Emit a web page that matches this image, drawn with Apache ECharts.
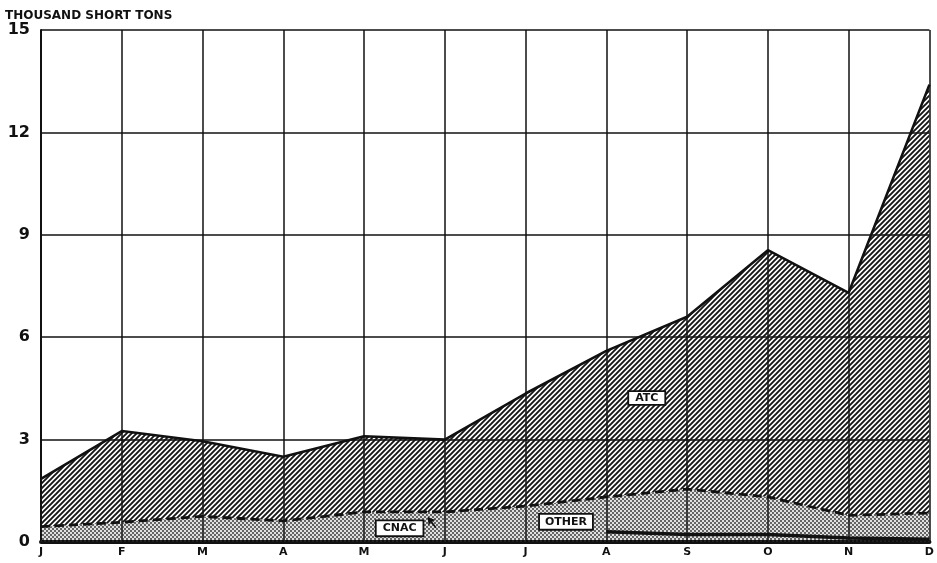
<!DOCTYPE html>
<html>
<head>
<meta charset="utf-8">
<script src="https://cdn.jsdelivr.net/npm/echarts@6/dist/echarts.min.js"></script>
<style>
html,body{margin:0;padding:0;background:#fff;}
#chart{width:937px;height:563px;}
</style>
</head>
<body>
<div id="chart"></div>
<script>
// ---- data (thousand short tons) ----
const months = ['J','F','M','A','M','J','J','A','S','O','N','D'];
const yTicks = [0, 3, 6, 9, 12, 15];
// lower dotted band (CNAC + other), top marked by the dashed line
const cnacOther = [0.45, 0.58, 0.75, 0.62, 0.88, 0.88, 1.05, 1.32, 1.55, 1.32, 0.78, 0.85];
// ATC hatched band stacked on top of it
const atc = [1.40, 2.67, 2.20, 1.88, 2.22, 2.12, 3.30, 4.28, 5.05, 7.23, 6.52, 12.55];
// thin dark band at the bottom from August on
const bottomBand = [null, null, null, null, null, null, null, 0.30, 0.22, 0.22, 0.12, 0.08];
// in-chart labels: [month position, value]
const labelNames = ['ATC', 'CNAC', 'OTHER'];
const labelPos = [[7.5, 4.22], [4.44, 0.40], [6.50, 0.59]];

function hatchPattern(){
  const c=document.createElement('canvas'); c.width=c.height=5;
  const g=c.getContext('2d');
  g.strokeStyle='#151515'; g.lineWidth=1.9; g.lineCap='square';
  g.beginPath();
  g.moveTo(-1,6); g.lineTo(6,-1);
  g.moveTo(-1,1); g.lineTo(1,-1);
  g.moveTo(4,6); g.lineTo(6,4);
  g.stroke();
  return c;
}
function dotPattern(){
  const c=document.createElement('canvas'); c.width=c.height=4;
  const g=c.getContext('2d');
  g.fillStyle='rgba(0,0,0,0.12)'; g.fillRect(0,0,4,4);
  g.fillStyle='#2a2a2a';
  g.beginPath(); g.arc(1,1,0.9,0,Math.PI*2); g.fill();
  g.beginPath(); g.arc(3,3,0.9,0,Math.PI*2); g.fill();
  return c;
}

const FONT = 'DejaVu Sans';
const pads = {ATC:[1,6,0,6], CNAC:[2,6,1,6], OTHER:[2,5,1,5]};
const boxLabel = (txt) => ({
  show:true, position:'inside', formatter:txt,
  fontFamily:FONT, fontWeight:'bold', fontSize:11, color:'#111',
  backgroundColor:'#fff', borderColor:'#111', borderWidth:1.8,
  padding:pads[txt]
});

const chart = echarts.init(document.getElementById('chart'), null, {renderer:'canvas'});
chart.setOption({
  animation:false,
  backgroundColor:'#fff',
  title:{
    text:'THOUSAND SHORT TONS', left:0, top:5,
    textStyle:{fontFamily:FONT, fontWeight:'bold', fontSize:12, color:'#111'}
  },
  grid:{left:41, right:7, top:30, bottom:21, containLabel:false},
  xAxis:[{
    type:'category', data:months, boundaryGap:false,
    axisLine:{show:true, onZero:true, lineStyle:{color:'#111', width:4}},
    axisTick:{show:false},
    axisLabel:{margin:5, interval:0, fontFamily:FONT, fontWeight:'bold', fontSize:11, color:'#111'},
    splitLine:{show:true, interval:0, lineStyle:{color:'#111', width:1.5}}
  },{
    type:'value', min:0, max:months.length-1, show:false
  }],
  yAxis:{
    type:'value', min:yTicks[0], max:yTicks[yTicks.length-1], interval:3,
    axisLine:{show:true, lineStyle:{color:'#111', width:2}},
    axisTick:{show:false},
    axisLabel:{margin:11, fontFamily:FONT, fontWeight:'bold', fontSize:16, color:'#111'},
    splitLine:{show:true, lineStyle:{color:'#111', width:1.5}}
  },
  series:[
    {
      name:'CNAC/OTHER', type:'line', stack:'t', symbol:'none',
      data:cnacOther,
      lineStyle:{color:'#111', width:2.8, type:[9,5]},
      areaStyle:{color:{image:dotPattern(), repeat:'repeat'}, opacity:1},
      z:3
    },
    {
      name:'ATC', type:'line', stack:'t', symbol:'none',
      data:atc,
      lineStyle:{color:'#111', width:2.6},
      areaStyle:{color:{image:hatchPattern(), repeat:'repeat'}, opacity:1},
      z:2
    },
    {
      name:'bottom', type:'line', symbol:'none',
      data:bottomBand,
      lineStyle:{color:'#111', width:3.5},
      z:4
    },
    {
      name:'labels', type:'scatter', xAxisIndex:1, symbol:'rect', symbolSize:1,
      itemStyle:{color:'rgba(0,0,0,0)', opacity:1},
      emphasis:{disabled:true},
      data:labelPos.map((p,i)=>({value:p, label:boxLabel(labelNames[i])})),
      z:6,
      markLine:{
        silent:true, symbol:['none','arrow'], symbolSize:7,
        lineStyle:{color:'#111', width:1.6, type:'solid', opacity:1},
        label:{show:false},
        data:[[{coord:[4.89,0.42]},{coord:[4.79,0.72]}]]
      }
    }
  ]
});
</script>
</body>
</html>
